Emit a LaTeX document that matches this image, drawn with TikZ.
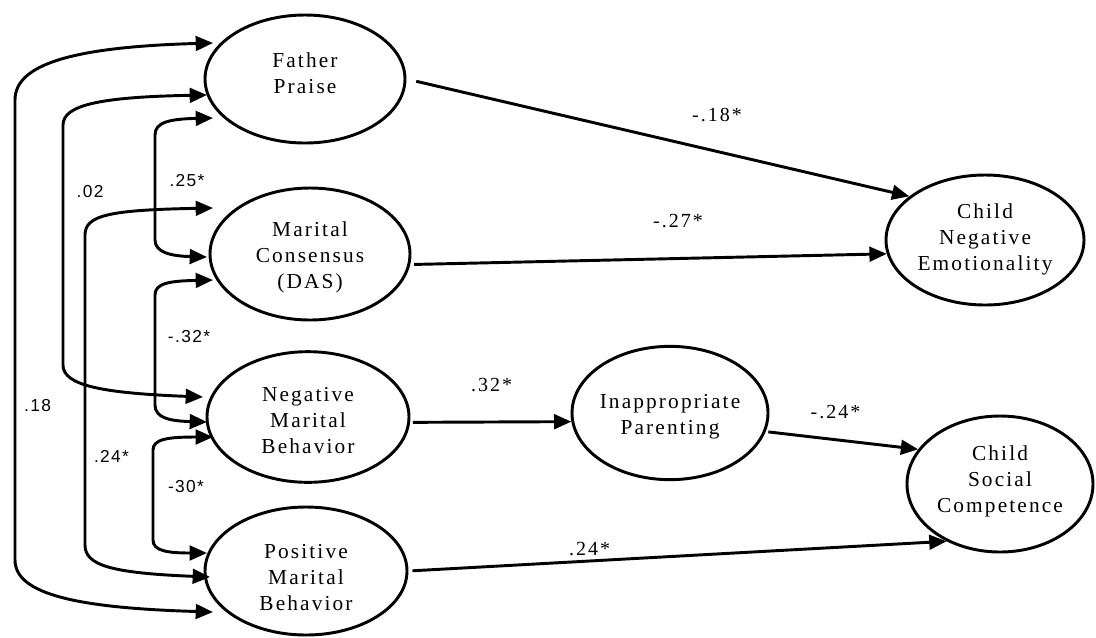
\documentclass[tikz,border=0pt]{standalone}
\usepackage{fontspec}
\setmainfont{Liberation Serif}
\newfontfamily\spaced[LetterSpace=10]{Liberation Serif}
\newfontfamily\labsans[LetterSpace=8]{Liberation Sans}
\usetikzlibrary{shapes.geometric,arrows.meta,calc}
\begin{document}
\begin{tikzpicture}[x=0.75pt,y=-0.75pt,
  every node/.style={inner sep=0pt},
  latent/.style={ellipse,draw,line width=2.2pt},
  ntext/.style={align=center,font=\fontsize{16}{19.5}\selectfont\spaced},
  path/.style={line width=2.2pt,-{Triangle[length=13pt,width=11pt]}},
  biarrow/.style={line width=2.2pt,{Triangle[length=13pt,width=11pt]}-{Triangle[length=13pt,width=11pt]}},
  lab/.style={font=\fontsize{13}{15}\selectfont\labsans},
  labs/.style={font=\fontsize{15}{17}\selectfont\spaced}]
\useasboundingbox (0,0) rectangle (1096,637);

% ellipses
\node[latent,minimum width=150pt,minimum height=96pt] (fp) at (305,79) {};
\node[latent,minimum width=150pt,minimum height=99pt] (mc) at (310,254) {};
\node[latent,minimum width=151.5pt,minimum height=98pt] (nmb) at (308,417) {};
\node[latent,minimum width=151.5pt,minimum height=96pt] (pmb) at (306,571) {};
\node[latent,minimum width=148.5pt,minimum height=97.5pt] (cne) at (985,240) {};
\node[latent,minimum width=147pt,minimum height=100pt] (ip) at (670,413) {};
\node[latent,minimum width=139.5pt,minimum height=102pt] (csc) at (1000,484) {};

% texts
\node[ntext] (fpt) at (305,73) {Father\\Praise};
\node[ntext] (mct) at (310,257.5) {Marital\\Consensus\\(DAS)};
\node[ntext] (nmbt) at (308,420.5) {Negative\\Marital\\Behavior};
\node[ntext] (pmbt) at (306,577.5) {Positive\\Marital\\Behavior};
\node[ntext] (cnet) at (985,239.5) {Child\\Negative\\Emotionality};
\node[ntext] (ipt) at (670,416.5) {Inappropriate\\Parenting};
\node[ntext] (csct) at (1000,481.5) {Child\\Social\\Competence};

% ports for the covariance arcs
\coordinate (fpA) at ($(fp.center)+(-92,-36)$);
\coordinate (fpB) at ($(fp.center)+(-98,16)$);
\coordinate (fpC) at ($(fp.center)+(-92,39)$);
\coordinate (mcA) at ($(mc.center)+(-103,3)$);
\coordinate (mcB) at ($(mc.center)+(-97,-46)$);
\coordinate (mcC) at ($(mc.center)+(-97,26)$);
\coordinate (nmA) at ($(nmb.center)+(-105,-20)$);
\coordinate (nmB) at ($(nmb.center)+(-101,5)$);
\coordinate (nmC) at ($(nmb.center)+(-95,20)$);
\coordinate (pmA) at ($(pmb.center)+(-99,-18)$);
\coordinate (pmB) at ($(pmb.center)+(-96,6)$);
\coordinate (pmC) at ($(pmb.center)+(-93,41)$);

% covariances
\draw[biarrow] (fpA) .. controls (70,47) and (15,65) .. (15,100) -- (15,560) .. controls (15,595) and (80,608) .. (pmC);
\draw[biarrow] (fpB) .. controls (100,97) and (63,105) .. (63,125) -- (63,365) .. controls (63,385) and (100,393) .. (nmA);
\draw[biarrow] (fpC) .. controls (170,119) and (155,122) .. (155,135) -- (155,240) .. controls (155,252) and (170,256) .. (mcA);
\draw[biarrow] (mcB) .. controls (110,210) and (85,215) .. (85,235) -- (85,545) .. controls (85,565) and (110,573) .. (pmB);
\draw[biarrow] (mcC) .. controls (170,281) and (155,283) .. (155,295) -- (155,405) .. controls (155,418) and (170,421) .. (nmB);
\draw[biarrow] (nmC) .. controls (168,437) and (153,439) .. (153,450) -- (153,540) .. controls (153,551) and (168,553) .. (pmA);

% paths
\draw[path,shorten <=7.5pt] (fp.east) -- (cne.150.5);
\draw[path,shorten <=3pt] (mc.-6) -- (cne.188.2);
\draw[path,shorten <=2pt] (nmb.-3) -- (ip.185.8);
\draw[path,shorten <=2pt] (ip.-11.6) -- (csc.157.7);
\draw[path,shorten <=3pt] (pmb.east) -- (csc.227.5);

% labels
\node[lab] (l1) at (90,191.5) {.02};
\node[lab] (l2) at (187,181) {.25*};
\node[lab] (l3) at (189,337) {-.32*};
\node[lab] (l4) at (37.5,406) {.18};
\node[lab] (l5) at (111.5,456) {.24*};
\node[lab] (l6) at (186,487) {-30*};
\node[labs] (l7) at (717,115) {-.18*};
\node[labs] (l8) at (678,221.5) {-.27*};
\node[labs] (l9) at (491.5,385) {.32*};
\node[labs] (l10) at (835.5,412.5) {-.24*};
\node[labs] (l11) at (589.5,549.5) {.24*};
\end{tikzpicture}
\end{document}
